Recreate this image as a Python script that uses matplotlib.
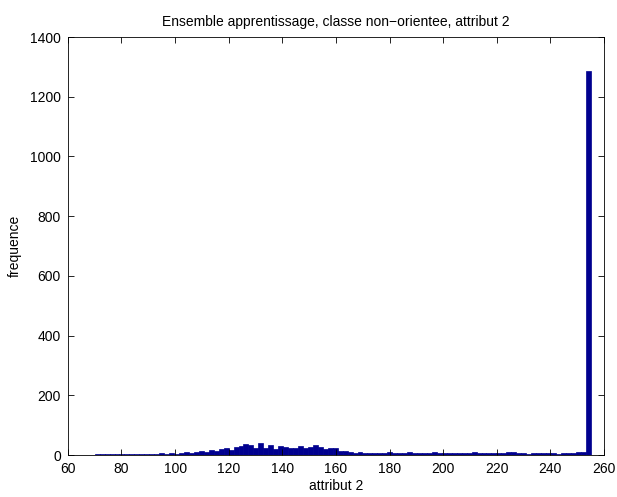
import numpy as np
import matplotlib
matplotlib.use("Agg")
import matplotlib.pyplot as plt

# histogram of attribut 2: 100 bins between 70 and 255
bin_lo, bin_hi = 70, 255
counts = [
    3, 3, 4, 3, 2, 5, 3, 3, 4, 4,
    3, 5, 4, 6, 5, 8, 5, 7, 10, 8,
    9, 12, 10, 18, 15, 20, 22, 18, 28, 30,
    38, 32, 25, 40, 22, 35, 20, 30, 28, 22,
    25, 30, 22, 28, 33, 26, 20, 22, 25, 15,
    12, 10, 8, 9, 7, 8, 6, 8, 7, 9,
    6, 7, 8, 10, 7, 6, 8, 7, 9, 6,
    7, 8, 7, 6, 7, 8, 9, 7, 6, 8,
    7, 6, 8, 9, 10, 8, 7, 5, 6, 8,
    6, 7, 8, 5, 8, 6, 7, 9, 10, 1285,
]
xticks = list(range(60, 261, 20))
yticks = list(range(0, 1401, 200))

plt.rcParams['font.family'] = ['Liberation Sans', 'DejaVu Sans']
plt.rcParams['font.size'] = 10

edges = np.linspace(bin_lo, bin_hi, len(counts) + 1)
centers = (edges[:-1] + edges[1:]) / 2
width = edges[1] - edges[0]

fig = plt.figure(figsize=(6.17, 4.97), dpi=100)
ax = fig.add_axes([0.110, 0.0845, 0.869, 0.841])

ax.bar(centers, counts, width=width, color='#00008F', edgecolor='#00008F', linewidth=0.5)

ax.set_xlim(60, 260)
ax.set_ylim(0, 1400)
ax.set_xticks(xticks)
ax.set_yticks(yticks)
ax.tick_params(direction='in', top=True, right=True, length=4, width=0.6, pad=5)
for s in ax.spines.values():
    s.set_linewidth(0.6)

ax.set_title('Ensemble apprentissage, classe non\u2212orientee, attribut 2', fontsize=10, pad=8)
ax.set_xlabel('attribut 2', labelpad=2)
ax.set_ylabel('frequence', labelpad=6)

fig.savefig('out.png', dpi=100)
